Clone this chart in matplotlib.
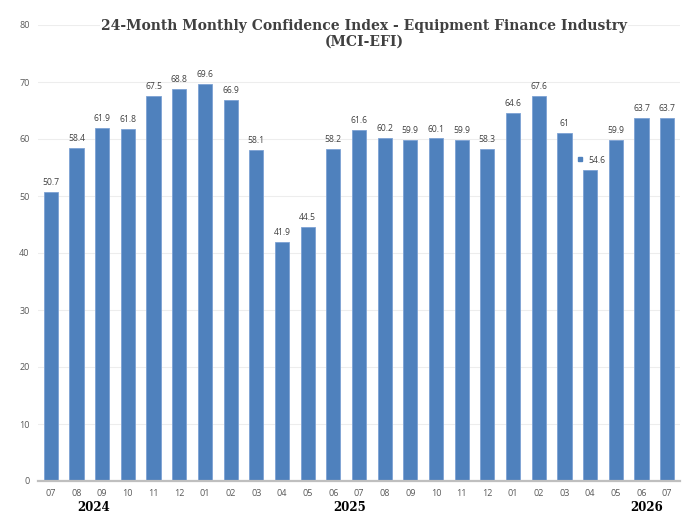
import matplotlib
matplotlib.use("Agg")
import matplotlib.pyplot as plt
from matplotlib.transforms import ScaledTranslation

months = ["07", "08", "09", "10", "11", "12", "01", "02", "03", "04", "05", "06",
          "07", "08", "09", "10", "11", "12", "01", "02", "03", "04", "05", "06", "07"]
values = [50.7, 58.4, 61.9, 61.8, 67.5, 68.8, 69.6, 66.9, 58.1, 41.9, 44.5, 58.2,
          61.6, 60.2, 59.9, 60.1, 59.9, 58.3, 64.6, 67.6, 61, 54.6, 59.9, 63.7, 63.7]
value_labels = ["50.7", "58.4", "61.9", "61.8", "67.5", "68.8", "69.6", "66.9", "58.1",
                "41.9", "44.5", "58.2", "61.6", "60.2", "59.9", "60.1", "59.9", "58.3",
                "64.6", "67.6", "61", "54.6", "59.9", "63.7", "63.7"]
years = ["2024", "2025", "2026"]
year_pos = [1.65, 11.65, 23.2]
keyed_label = 21  # label shown with legend key

title = "24-Month Monthly Confidence Index - Equipment Finance Industry\n(MCI-EFI)"

fig = plt.figure(figsize=(7, 5.26), dpi=100)
ax = fig.add_axes([38/700, 45/526, 642/700, 456/526])

x = list(range(len(values)))
ax.bar(x, values, width=0.55, color="#4F81BD", edgecolor="#7DA2D4", linewidth=0.6, zorder=3)

ax.set_xlim(-0.5, len(values) - 0.5)
ax.set_ylim(0, 80)
ax.set_yticks(range(0, 81, 10))
ax.set_xticks(x)
ax.set_xticklabels(months)
ax.grid(axis="y", color="#EDEDED", linewidth=0.8, zorder=0)
for s in ["top", "right", "left"]:
    ax.spines[s].set_visible(False)
ax.spines["bottom"].set_color("#BFBFBF")
ax.spines["bottom"].set_linewidth(1.6)
ax.spines["bottom"].set_zorder(4)
ax.tick_params(axis="both", length=0, labelsize=6.5, labelcolor="#595959")
ax.tick_params(axis="x", pad=6)
ax.tick_params(axis="y", pad=6)
for lab in ax.get_xticklabels() + ax.get_yticklabels():
    lab.set_fontfamily("Open Sans")

for i, (v, t) in enumerate(zip(values, value_labels)):
    if i == keyed_label:
        ax.annotate(t, (i, v), xytext=(5, 3.5), textcoords="offset points",
                    ha="center", va="bottom", fontsize=6.2, color="#404040",
                    family="Open Sans", zorder=5)
        ln, = ax.plot([i], [v], marker="s", markersize=3.5, color="#4F81BD",
                      zorder=5, linestyle="none")
        ln.set_transform(ax.transData + ScaledTranslation(-7/72, 7.5/72, fig.dpi_scale_trans))
    else:
        ax.annotate(t, (i, v), xytext=(0, 3.5), textcoords="offset points",
                    ha="center", va="bottom", fontsize=6.2, color="#404040",
                    family="Open Sans", zorder=5)

for yr, p in zip(years, year_pos):
    ax.text(p, -0.058, yr, transform=ax.get_xaxis_transform(), ha="center", va="center",
            fontsize=8.5, fontweight="bold", family="DejaVu Serif", color="#000000")

fig.text(364/700, 1 - 34/526, title, ha="center", va="center", fontsize=10,
         fontweight="bold", family="DejaVu Serif", color="#404040", linespacing=1.2,
         bbox=dict(facecolor="white", edgecolor="none", pad=1))

fig.savefig("out.png", dpi=100)
